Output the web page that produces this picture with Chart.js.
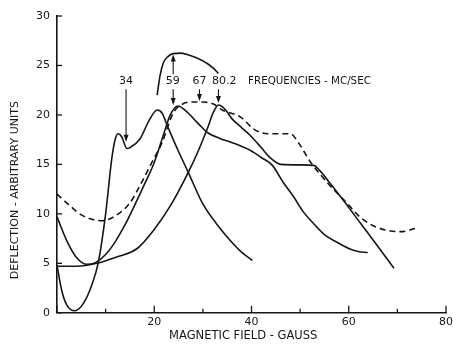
<!DOCTYPE html>
<html>
<head>
<meta charset="utf-8">
<script src="https://cdn.jsdelivr.net/npm/chart.js@4.4.1/dist/chart.umd.min.js"></script>
<style>
  html, body { margin: 0; padding: 0; background: #fff; }
  #wrap { width: 453px; height: 348px; position: relative; }
</style>
</head>
<body>
<div id="wrap"><canvas id="chart"></canvas></div>
<script>
// Values (magnetic field in gauss, deflection in arbitrary units)
const f34X = [0, 1, 2, 3.7, 5.5, 7, 8.5, 10, 11.3, 12, 12.6, 13.3, 14.4, 15, 17.1, 19, 20.6, 21.6, 22.7, 25, 27, 30, 33.6, 36, 38, 40.2];
const f34Y = [4.8, 2.2, 0.8, 0.2, 1.0, 2.6, 5.1, 10, 15.7, 17.6, 18.1, 17.8, 16.6, 16.7, 17.6, 19.5, 20.5, 20.2, 18.9, 16.3, 14.2, 11, 8.5, 7.1, 6.1, 5.3];

const f59X = [0, 2, 4, 6.2, 8, 10, 12, 14, 16, 18, 20, 21.9, 23.3, 24.9, 26.5, 28.9, 31, 33.6, 36, 39.8, 42, 44.3, 46.5, 48.7, 50.5, 52.8, 55, 57.7, 60, 61.9, 63.9];
const f59Y = [9.7, 7.3, 5.6, 4.9, 5.1, 5.9, 7.2, 8.9, 10.9, 13.0, 15.2, 18.0, 20.0, 20.9, 20.4, 19.2, 18.2, 17.6, 17.2, 16.4, 15.7, 14.9, 13.2, 11.7, 10.3, 9.0, 7.9, 7.1, 6.5, 6.2, 6.1];

const f67X = [0, 2.7, 5, 9.3, 12, 15, 17, 19.2, 21.6, 23.9, 25.5, 27.4, 30, 32.2, 34, 37.7, 40.4, 42, 44, 48, 49.5, 52.2, 55.7, 59.8, 62.5, 66, 70.7, 74.2];
const f67Y = [12, 10.8, 9.9, 9.3, 9.8, 11.1, 12.8, 14.9, 17.2, 20.2, 21.0, 21.3, 21.3, 21.1, 20.5, 19.8, 18.6, 18.2, 18.1, 18.1, 17.3, 15.2, 13.1, 11.0, 9.6, 8.6, 8.2, 8.6];

const f80X = [0, 4, 8.2, 12, 16.5, 19.8, 23.3, 27, 29, 30.9, 32.2, 33.2, 34.5, 36, 38, 40, 42, 44, 46, 50, 52.8, 54, 56, 59, 62.5, 66, 69.3];
const f80Y = [4.7, 4.7, 5.0, 5.6, 6.5, 8.3, 10.8, 14.2, 16.3, 18.6, 20.3, 21.0, 20.6, 19.6, 18.7, 17.8, 16.7, 15.6, 15.0, 14.95, 14.9, 14.4, 13.2, 11.3, 9.0, 6.7, 4.5];

// short arc above the 59 peak
const arcX = [20.6, 21.2, 21.9, 22.8, 23.9, 25.5, 27.4, 29, 30.9, 32.2, 33.2];
const arcY = [22.0, 24.0, 25.3, 25.9, 26.2, 26.25, 26.0, 25.7, 25.2, 24.7, 24.2];

// frequency labels (MC/SEC) and where their arrows point
const freqLabels = ['34', '59', '67', '80.2'];
const labelX = [14.2, 23.8, 29.3, 34.4];
const arrowX = [14.2, 23.9, 29.3, 33.2];
const arrowTipY = [17.3, 21.0, 21.4, 21.2];
const labelY = 23.4;
const arcArrowTipY = 26.1;

const xTicks = [0, 10, 20, 30, 40, 50, 60, 70, 80];
const yTicks = [0, 5, 10, 15, 20, 25, 30];

const xTitle = 'MAGNETIC FIELD - GAUSS';
const yTitle = 'DEFLECTION - ARBITRARY UNITS';
const freqTitle = 'FREQUENCIES - MC/SEC';

const FONT = "'DejaVu Sans', sans-serif";
const INK = '#161616';

function pts(xs, ys) {
    return xs.map((x, i) => ({ x: x, y: ys[i] }));
}

function lineSet(xs, ys, dash) {
    return {
        data: pts(xs, ys),
        borderColor: INK,
        borderWidth: 1.6,
        borderDash: dash || [],
        pointRadius: 0,
        fill: false,
        cubicInterpolationMode: 'monotone'
    };
}

function arrowHead(ctx, x, y, dir) {
    // dir = 1 points down, -1 points up
    ctx.beginPath();
    ctx.moveTo(x, y);
    ctx.lineTo(x - 2.5, y - dir * 7);
    ctx.lineTo(x + 2.5, y - dir * 7);
    ctx.closePath();
    ctx.fill();
}

// ticks in this figure point into the plot, and the axis titles sit
// off-centre, so both are drawn here
const axisExtras = {
    id: 'axisExtras',
    afterDraw(chart) {
        const ctx = chart.ctx;
        const xs = chart.scales.x;
        const ys = chart.scales.y;
        ctx.save();
        ctx.strokeStyle = INK;
        ctx.lineWidth = 1.3;
        xTicks.forEach(v => {
            const px = xs.getPixelForValue(v);
            const len = v % 20 === 0 ? 7 : 4;
            ctx.beginPath();
            ctx.moveTo(px, ys.bottom);
            ctx.lineTo(px, ys.bottom - len);
            ctx.stroke();
        });
        yTicks.forEach(v => {
            const py = ys.getPixelForValue(v);
            ctx.beginPath();
            ctx.moveTo(xs.left, py);
            ctx.lineTo(xs.left + 5, py);
            ctx.stroke();
        });

        ctx.fillStyle = INK;
        ctx.textAlign = 'center';
        ctx.textBaseline = 'middle';
        ctx.font = '11.5px ' + FONT;
        ctx.fillText(xTitle, xs.getPixelForValue(38.3), chart.height - 12);
        ctx.font = '11px ' + FONT;
        ctx.translate(15, ys.getPixelForValue(12.4));
        ctx.rotate(-Math.PI / 2);
        ctx.fillText(yTitle, 0, 0);
        ctx.restore();
    }
};

const freqNotes = {
    id: 'freqNotes',
    afterDatasetsDraw(chart) {
        const ctx = chart.ctx;
        const xs = chart.scales.x;
        const ys = chart.scales.y;
        const ly = ys.getPixelForValue(labelY);
        ctx.save();
        ctx.fillStyle = INK;
        ctx.strokeStyle = INK;
        ctx.lineWidth = 1.1;
        ctx.font = '11px ' + FONT;
        ctx.textAlign = 'center';
        ctx.textBaseline = 'middle';
        freqLabels.forEach((t, i) => {
            ctx.fillText(t, xs.getPixelForValue(labelX[i]), ly);
            const ax = xs.getPixelForValue(arrowX[i]);
            const tip = ys.getPixelForValue(arrowTipY[i]);
            ctx.beginPath();
            ctx.moveTo(ax, ly + 8);
            ctx.lineTo(ax, tip - 2);
            ctx.stroke();
            arrowHead(ctx, ax, tip, 1);
        });
        // the 59 label also points up to the arc
        const ax = xs.getPixelForValue(arrowX[1]);
        const up = ys.getPixelForValue(arcArrowTipY);
        ctx.beginPath();
        ctx.moveTo(ax, ly - 7);
        ctx.lineTo(ax, up + 2);
        ctx.stroke();
        arrowHead(ctx, ax, up, -1);

        ctx.textAlign = 'left';
        ctx.font = '10.3px ' + FONT;
        ctx.fillText(freqTitle, xs.getPixelForValue(39.3), ly);
        ctx.restore();
    }
};

const ctx = document.getElementById('chart').getContext('2d');
new Chart(ctx, {
    type: 'line',
    data: {
        datasets: [
            lineSet(f34X, f34Y),
            lineSet(f59X, f59Y),
            lineSet(f67X, f67Y, [6, 4]),
            lineSet(f80X, f80Y),
            lineSet(arcX, arcY)
        ]
    },
    options: {
        responsive: true,
        maintainAspectRatio: false,
        animation: false,
        layout: { padding: { left: 29, right: 0, top: 16, bottom: 16 } },
        plugins: {
            legend: { display: false },
            tooltip: { enabled: false }
        },
        scales: {
            x: {
                type: 'linear',
                min: 0,
                max: 80,
                afterBuildTicks: s => { s.ticks = xTicks.map(v => ({ value: v })); },
                afterFit: s => { s.paddingRight = 7; },
                ticks: {
                    color: INK,
                    font: { family: FONT, size: 11 },
                    padding: 3,
                    maxRotation: 0,
                    autoSkip: false,
                    callback: v => (v > 0 && v % 20 === 0) ? String(v) : ''
                },
                grid: { drawOnChartArea: false, drawTicks: false },
                border: { color: INK, width: 1.6 }
            },
            y: {
                min: 0,
                max: 30,
                afterBuildTicks: s => { s.ticks = yTicks.map(v => ({ value: v })); },
                ticks: {
                    color: INK,
                    font: { family: FONT, size: 11 },
                    padding: 7
                },
                grid: { drawOnChartArea: false, drawTicks: false },
                border: { color: INK, width: 1.6 }
            }
        }
    },
    plugins: [axisExtras, freqNotes]
});
</script>
</body>
</html>
